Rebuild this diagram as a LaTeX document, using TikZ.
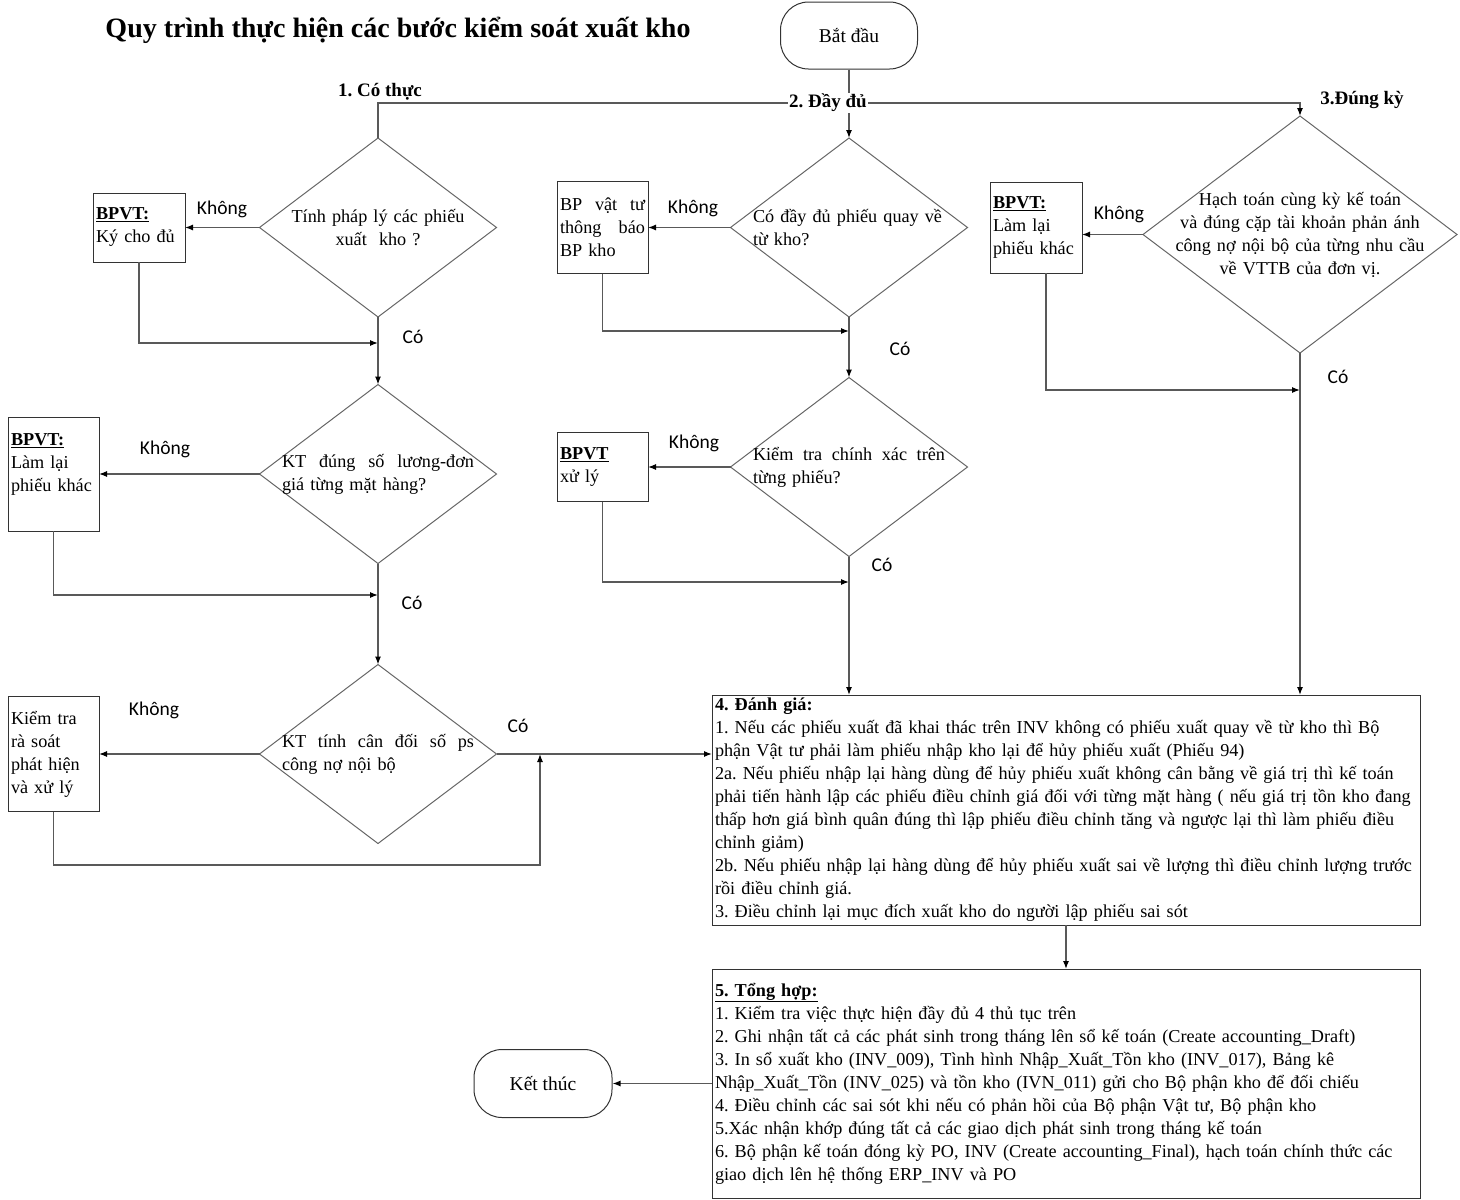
\documentclass[tikz,border=0pt]{standalone}
\usepackage{fontspec}
\setmainfont{Liberation Serif}
\newfontfamily\lblfont{Carlito}
\usetikzlibrary{arrows.meta, positioning, shapes.geometric, calc}
\frenchspacing

\begin{document}
\begin{tikzpicture}[
    x=1pt, y=-1pt,
    every node/.style={font=\fontsize{18.2}{23}\selectfont},
    line/.style={draw=black!65, line width=1.2pt},
    arr/.style={line, -{Latex[length=8pt, width=6pt, color=black]}},
    term/.style={draw=black!80, line width=1pt, rounded corners=28pt, minimum width=137pt, minimum height=67pt, font=\fontsize{19.5}{23}\selectfont},
    dec/.style={draw=black!60, line width=1pt, shape=diamond, minimum width=237pt, minimum height=179pt, inner sep=0pt, outer sep=0pt},
    dectext/.style={inner sep=0pt, align=left, text width=192pt},
    sidebox/.style={draw=black!80, line width=1pt, text width=86pt, align=left, inner xsep=3pt, inner ysep=2pt, outer sep=0pt},
    bigbox/.style={draw=black!80, line width=1pt, minimum height=230pt, text width=702pt, align=left, inner xsep=3pt, inner ysep=0pt, outer sep=0pt},
    lbl/.style={font=\lblfont\fontsize{19.5}{22}\selectfont, inner sep=0pt},
    branch/.style={font=\fontsize{19}{20}\selectfont\bfseries, inner sep=1pt}
]
\useasboundingbox (0,0) rectangle (1460,1200);

\node[font=\fontsize{28}{30}\selectfont\bfseries] (title) at (398,30) {Quy trình thực hiện các bước kiểm soát xuất kho};

\node[term] (start) at (849,35.5) {Bắt đầu};
\node[term, minimum width=138pt, minimum height=68pt] (finish) at (543,1083.5) {Kết thúc};

\node[dec] (d1) at (378,227.5) {};
\node[dectext, align=center] (t1) at (d1) {Tính pháp lý các phiếu\\xuất\ \ kho ?};
\node[dec] (d2) at (378,474) {};
\node[dectext] (t2) at (d2) {\makebox[192pt]{KT\hfill đúng\hfill số\hfill lương-đơn}\\giá từng mặt hàng?};
\node[dec] (d3) at (378,754) {};
\node[dectext] (t3) at (d3) {\makebox[192pt]{KT\hfill tính\hfill cân\hfill đối\hfill số\hfill ps}\\công nợ nội bộ};

\node[dec] (m1) at (849,227.5) {};
\node[dectext] (tm1) at (m1) {Có đầy đủ phiếu quay về\\từ kho?};
\node[dec] (m2) at (849,467) {};
\node[dectext] (tm2) at (m2) {\makebox[192pt]{Kiểm\hfill tra\hfill chính\hfill xác\hfill trên}\\từng phiếu?};

\node[dec, minimum width=314pt, minimum height=237pt] (r1) at (1300,234.5) {};
\node[dectext, align=center, text width=270pt] (tr1) at (r1) {Hạch toán cùng kỳ kế toán\\và đúng cặp tài khoản phản ánh\\công nợ nội bộ của từng nhu cầu\\về VTTB của đơn vị.};

\node[sidebox, minimum height=69pt] (b1) at (139,227.5) {\textbf{\underline{BPVT:}}\\Ký cho đủ};
\node[sidebox, minimum height=114pt, text width=85pt] (b2) at (53.5,474) {\textbf{\underline{BPVT:}}\\Làm lại\\phiếu khác\\\mbox{}};
\node[sidebox, minimum height=115pt, text width=85pt] (b3) at (53.5,754) {Kiểm tra\\rà soát\\phát hiện\\và xử lý};
\node[sidebox, minimum height=92pt, text width=85pt] (bm1) at (602.5,227.5) {\makebox[85pt]{BP\hfill vật\hfill tư}\\\makebox[85pt]{thông\hfill báo}\\BP kho};
\node[sidebox, minimum height=69pt, text width=85pt] (bm2) at (602.5,467) {\textbf{\underline{BPVT}}\\xử lý};
\node[sidebox, minimum height=91pt] (br) at (1036,227.5) {\textbf{\underline{BPVT:}}\\Làm lại\\phiếu khác};

\node[bigbox] (eval) at (1066,810) {\textbf{4. Đánh giá:}\\
1. Nếu các phiếu xuất đã khai thác trên INV không có phiếu xuất quay về từ kho thì Bộ\\
phận Vật tư phải làm phiếu nhập kho lại để hủy phiếu xuất (Phiếu 94)\\
2a. Nếu phiếu nhập lại hàng dùng để hủy phiếu xuất không cân bằng về giá trị thì kế toán\\
phải tiến hành lập các phiếu điều chỉnh giá đối với từng mặt hàng ( nếu giá trị tồn kho đang\\
thấp hơn giá bình quân đúng thì lập phiếu điều chỉnh tăng và ngược lại thì làm phiếu điều\\
chỉnh giảm)\\
2b. Nếu phiếu nhập lại hàng dùng để hủy phiếu xuất sai về lượng thì điều chỉnh lượng trước\\
rồi điều chỉnh giá.\\
3. Điều chỉnh lại mục đích xuất kho do người lập phiếu sai sót};

\node[bigbox, minimum height=229pt] (summary) at (1066,1083.5) {\textbf{\underline{5. Tổng hợp:}}\\
1. Kiểm tra việc thực hiện đầy đủ 4 thủ tục trên\\
2. Ghi nhận tất cả các phát sinh trong tháng lên sổ kế toán (Create accounting\_Draft)\\
3. In sổ xuất kho (INV\_009), Tình hình Nhập\_Xuất\_Tồn kho (INV\_017), Bảng kê\\
Nhập\_Xuất\_Tồn (INV\_025) và tồn kho (IVN\_011) gửi cho Bộ phận kho để đối chiếu\\
4. Điều chỉnh các sai sót khi nếu có phản hồi của Bộ phận Vật tư, Bộ phận kho\\
5.Xác nhận khớp đúng tất cả các giao dịch phát sinh trong tháng kế toán\\
6. Bộ phận kế toán đóng kỳ PO, INV (Create accounting\_Final), hạch toán chính thức các\\
giao dịch lên hệ thống ERP\_INV và PO};

\coordinate (split) at (849,103);
\coordinate (j1) at (378,343);
\coordinate (j2) at (378,595);
\coordinate (loop) at (540,865);
\coordinate (jm1) at (849,331);
\coordinate (jm2) at (849,582);
\coordinate (jr) at (1300,390);

\draw[line] (start) -- (split);
\draw[line] (split) -| (d1.north);
\draw[arr] (split) -- (m1.north);
\draw[arr] (split) -| (r1.north);

\draw[arr] (d1.west) -- (b1.east);
\draw[arr] (b1.south) |- (j1);
\draw[arr] (d1.south) -- (d2.north);
\draw[arr] (d2.west) -- (b2.east);
\draw[arr] (b2.south) |- (j2);
\draw[arr] (d2.south) -- (d3.north);
\draw[arr] (d3.west) -- (b3.east);
\draw[arr] (b3.south) |- (loop) -- (loop |- d3.east);
\draw[arr] (d3.east) -- (d3.east -| eval.west);

\draw[arr] (m1.west) -- (bm1.east);
\draw[arr] (bm1.south) |- (jm1);
\draw[arr] (m1.south) -- (m2.north);
\draw[arr] (m2.west) -- (bm2.east);
\draw[arr] (bm2.south) |- (jm2);
\draw[arr] (m2.south) -- (m2.south |- eval.north);

\draw[arr] (r1.west) -- (r1.west -| br.east);
\draw[arr] ([xshift=10pt]br.south) |- (jr);
\draw[arr] (r1.south) -- (r1.south |- eval.north);

\draw[arr] (eval) -- (summary);
\draw[arr] (summary.west) -- (finish.east);

\node[lbl] (no1) at (222,209) {Không};
\node[lbl] (no2) at (165,449) {Không};
\node[lbl] (no3) at (154,710) {Không};
\node[lbl] (no4) at (693,208) {Không};
\node[lbl] (no5) at (694,443) {Không};
\node[lbl] (no6) at (1119,214) {Không};
\node[lbl] (yes1) at (413,337) {Có};
\node[lbl] (yes2) at (412,603) {Có};
\node[lbl] (yes3) at (518,726) {Có};
\node[lbl] (yes4) at (900,349) {Có};
\node[lbl] (yes5) at (882,565) {Có};
\node[lbl] (yes6) at (1338,377) {Có};

\node[branch] (br1) at (380,92) {1. Có thực};
\node[branch, fill=white] (br2) at (828,103) {2. Đầy đủ};
\node[branch] (br3) at (1362,100) {3.Đúng kỳ};
\end{tikzpicture}
\end{document}
